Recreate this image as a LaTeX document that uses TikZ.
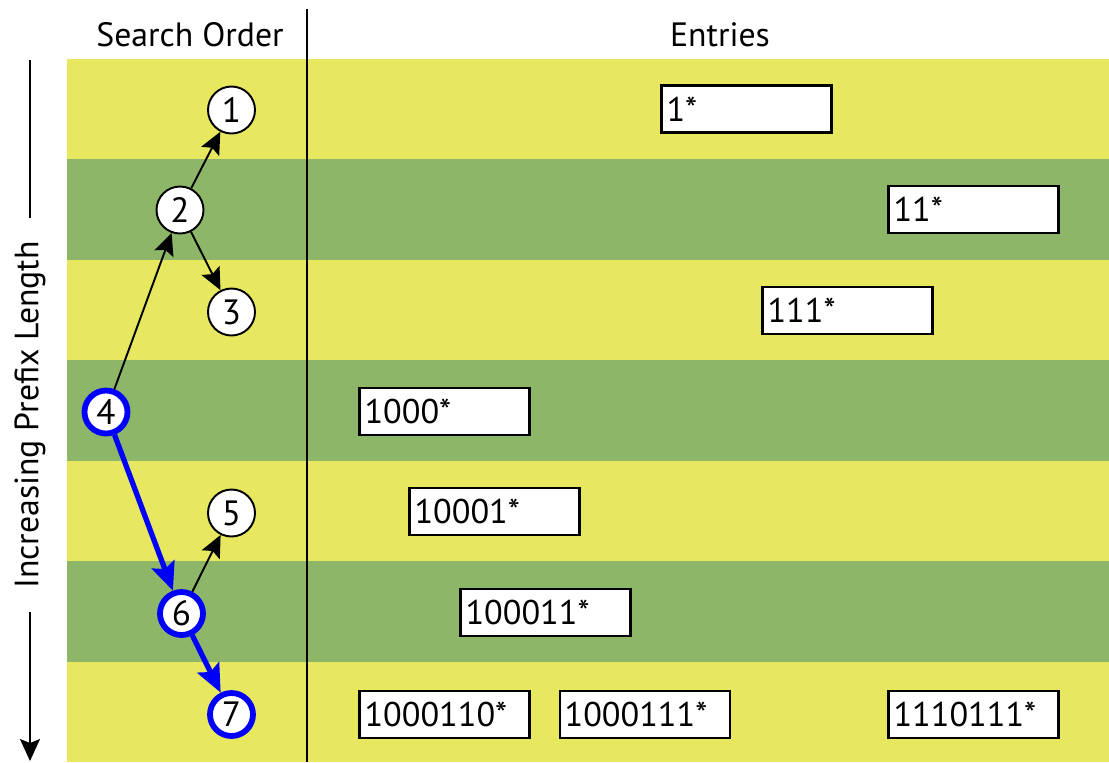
\documentclass[tikz,border=0pt]{standalone}
\usepackage{fontspec}
\setmainfont{PT Sans}
\usetikzlibrary{arrows.meta,positioning}
\definecolor{bandlight}{RGB}{232,232,96}
\definecolor{banddark}{RGB}{142,182,104}
\definecolor{hitblue}{RGB}{0,0,250}

\begin{document}
\begin{tikzpicture}[x=0.02cm,y=-0.02cm,
  head/.style={font=\fontsize{19.2}{22}\selectfont,inner sep=0pt},
  entry/.style={draw,line width=1.2pt,fill=white,minimum height=0.94cm,
    text width=3.2cm,align=left,inner xsep=0.1cm,inner ysep=0pt,
    font=\fontsize{19.5}{24}\selectfont},
  ord/.style={circle,draw,line width=1.1pt,fill=white,minimum size=0.94cm,
    inner sep=0pt,font=\fontsize{20}{24}\selectfont},
  hit/.style={ord,draw=hitblue,line width=3.3pt,minimum size=0.86cm},
  arr/.style={-{Stealth[length=0.44cm,width=0.4cm,inset=0.08cm]},line width=1.1pt},
  hitarr/.style={-{Stealth[length=0.56cm,width=0.48cm,inset=0.1cm]},
    line width=3pt,hitblue},
]
  \useasboundingbox (0,0) rectangle (1109,762);

  % prefix-length bands
  \foreach \i/\c in {0/bandlight,1/banddark,2/bandlight,3/banddark,
                     4/bandlight,5/banddark,6/bandlight}
    \fill[\c] (67,{59+100.43*\i}) rectangle (1109,{59+100.43*(\i+1)});

  \node[head] (srch) at (190,35) {Search Order};
  \node[head] (ents) at (720,35) {Entries};
  \draw[line width=1.2pt] (307,9) -- (307,762);

  \node[head,rotate=90,inner xsep=0.45cm] (axis) at (30,415) {Increasing Prefix Length};
  \coordinate (axtop) at (30,60);
  \coordinate (axbot) at (30,761);
  \draw[line width=1.1pt] (axtop) -- (axis.east);
  \draw[arr] (axis.west) -- (axbot);

  % search tree
  \node[ord] (n1) at (231.5,110) {1};
  \node[ord] (n2) at (180,210) {2};
  \node[ord] (n3) at (231.5,312) {3};
  \node[hit] (n4) at (106,412) {4};
  \node[ord] (n5) at (231.5,513) {5};
  \node[hit] (n6) at (181.5,613.5) {6};
  \node[hit] (n7) at (231.5,714.5) {7};

  \draw[arr] (n4) -- (n2);
  \draw[arr] (n2) -- (n1);
  \draw[arr] (n2) -- (n3);
  \draw[arr] (n6) -- (n5);
  \draw[hitarr] (n4) -- (n6);
  \draw[hitarr] (n6) -- (n7);

  % entries
  \node[entry] (e1) at (746.5,109) {1*};
  \node[entry] (e2) at (973.5,209.5) {11*};
  \node[entry] (e3) at (847.5,310.5) {111*};
  \node[entry] (e4) at (444.5,411.5) {1000*};
  \node[entry] (e5) at (494.5,511.5) {10001*};
  \node[entry] (e6) at (545.5,612.5) {100011*};
  \node[entry] (e7a) at (444.5,714.5) {1000110*};
  \node[entry,right=0.56cm of e7a] (e7b) {1000111*};
  \node[entry] (e7c) at (973.5,714.5) {1110111*};
\end{tikzpicture}
\end{document}
